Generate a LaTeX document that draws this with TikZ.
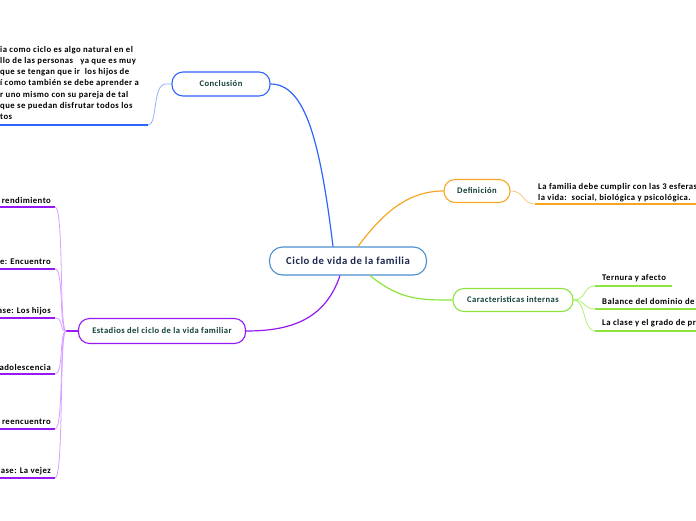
\documentclass[tikz,border=0pt]{standalone}
\usepackage{fontspec}
\setmainfont{Carlito}[LetterSpace=5]
\definecolor{CentralClr}{RGB}{74,144,206}
\definecolor{ConclClr}{RGB}{45,100,250}
\definecolor{ConclLight}{RGB}{150,175,250}
\definecolor{DefClr}{RGB}{247,166,35}
\definecolor{DefLight}{RGB}{250,200,130}
\definecolor{CarClr}{RGB}{140,228,60}
\definecolor{CarLight}{RGB}{175,240,115}
\definecolor{EstClr}{RGB}{150,25,245}
\definecolor{EstLight}{RGB}{215,160,255}
\definecolor{BranchTxt}{RGB}{18,64,55}
\definecolor{MainTxt}{RGB}{28,40,78}

\tikzset{
  topic/.style={draw,fill=white,rounded corners=11pt,line width=1.1pt,
    font=\bfseries\fontsize{8.6}{10}\selectfont,text=BranchTxt,inner sep=0pt},
  leaf/.style={font=\bfseries\fontsize{8.7}{11.2}\selectfont,text=black,inner sep=0pt}
}

\begin{document}
\begin{tikzpicture}[x=1pt,y=-1pt]
\useasboundingbox (0,0) rectangle (696,520);
\clip (0,0) rectangle (696,520);

% central
\node[topic,draw=CentralClr,text=MainTxt,font=\bfseries\fontsize{10.7}{12}\selectfont,
  minimum width=157pt,minimum height=28pt,rounded corners=13pt] (central) at (348,261) {Ciclo de vida de la familia};

% branches
\node[topic,draw=ConclClr,minimum width=98pt,minimum height=24pt] (concl) at (221,84) {Conclusión};
\node[topic,draw=DefClr,minimum width=66pt,minimum height=23pt] (defin) at (477,191) {Definición};
\node[topic,draw=CarClr,minimum width=120pt,minimum height=23pt] (carac) at (513,300) {Caracteristicas internas};
\node[topic,draw=EstClr,minimum width=167pt,minimum height=25pt] (estad) at (162,331) {Estadios del ciclo de la vida familiar};

\draw[ConclClr,line width=1.2pt] ([xshift=-15pt]central.north) .. controls (320,140) and (305,84) .. (concl.east);
\draw[DefClr,line width=1.2pt] ([xshift=10pt]central.north) .. controls (385,210) and (410,191) .. (defin.west);
\draw[CarClr,line width=1.2pt] ([xshift=22pt]central.south) .. controls (400,300) and (420,300) .. (carac.west);
\draw[EstClr,line width=1.2pt] ([xshift=-8pt]central.south) .. controls (325,320) and (290,331) .. (estad.east);

% conclusion text
\node[leaf,anchor=north west,align=left] (concltxt) at (0,46) {ia como ciclo es algo natural en el\\
llo de las personas \ \ ya que es muy\\
que se tengan que ir \ los hijos de\\
í como también se debe aprender a\\
r uno mismo con su pareja de tal\\
 que se puedan disfrutar todos los\\
tos};
\coordinate (conclA) at (0,125);
\coordinate (conclB) at (148,125);
\draw[ConclClr,line width=1.4pt] (conclA) -- (conclB);
\draw[ConclLight,line width=0.8pt] (conclB) .. controls (158,125) and (152,84) .. (166,84) -- (concl.west);

% definition text
\node[leaf,anchor=west,align=left] (deftxt) at (538,193) {La familia debe cumplir con las 3 esferas\\la vida:\ \ social, biológica y psicológica.};
\coordinate (defA) at (535,204);
\coordinate (defB) at (696,204);
\draw[DefClr,line width=1.4pt] (defA) -- (defB);
\draw[DefLight,line width=0.8pt] (defin.east) .. controls (525,191) and (522,204) .. (defA);

% caracteristicas
\foreach \n/\y/\len/\txt in {1/278/672/Ternura y afecto,
                             2/301/700/Balance del dominio de,
                             3/323/700/La clase y el grado de pr}{
  \node[leaf,anchor=west] (car\n) at (602,\y) {\txt};
  \coordinate (carA\n) at (595,\y+8);
  \coordinate (carB\n) at (\len,\y+8);
  \draw[CarClr,line width=1.4pt] (carA\n) -- (carB\n);
  \draw[CarLight,line width=0.8pt] (carac.east) .. controls (586,300) and (583,\y+8) .. (carA\n);
}

% estadios
\coordinate (estJ) at (66,331);
\draw[EstClr,line width=1.2pt] (estJ) -- (estad.west);
\foreach \n/\y/\txt in {1/207/rendimiento,2/269/e: Encuentro,3/318/ase: Los hijos,
                        4/374/adolescencia,5/429/reencuentro,6/478/ase: La vejez}{
  \node[leaf,anchor=east] (est\n) at (51,\y-7) {\txt};
  \coordinate (estA\n) at (0,\y);
  \coordinate (estB\n) at (55,\y);
  \draw[EstClr,line width=1.4pt] (estA\n) -- (estB\n);
  \draw[EstLight,line width=0.8pt] (estB\n) .. controls (64,\y) and (59,331) .. (estJ);
}

\end{tikzpicture}
\end{document}
